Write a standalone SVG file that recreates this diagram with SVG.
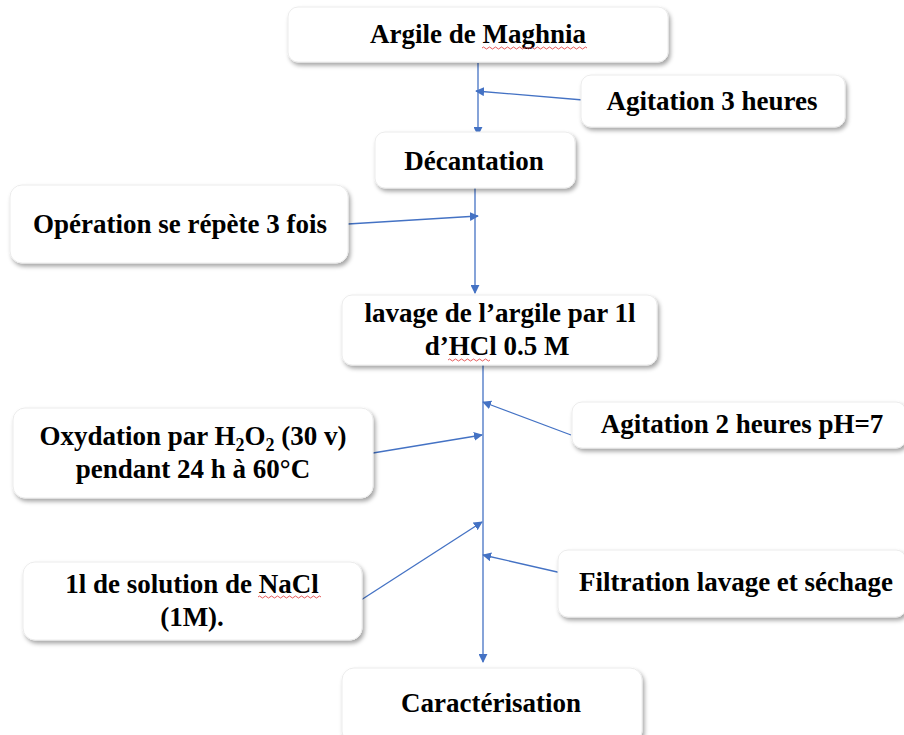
<svg xmlns="http://www.w3.org/2000/svg" width="904" height="735" viewBox="0 0 904 735">
<defs>
<filter id="sh" x="-10%" y="-20%" width="125%" height="150%">
<feDropShadow dx="2" dy="3" stdDeviation="2" flood-color="#000" flood-opacity="0.35"/>
</filter>
<marker id="ah" viewBox="0 0 10 10" refX="9" refY="5" markerWidth="9" markerHeight="9" markerUnits="userSpaceOnUse" orient="auto">
<path d="M0,0 L10,5 L0,10 z" fill="#4472C4"/>
</marker>
</defs>
<style>
.box{fill:#fff;stroke:#ececec;stroke-width:1;filter:url(#sh)}
.t{font-family:"Liberation Serif","Times New Roman",serif;font-weight:bold;font-size:27px;fill:#000;text-anchor:middle}
.c{stroke:#4472C4;stroke-width:1.3;fill:none}
.ca{stroke:#4472C4;stroke-width:1.3;fill:none;marker-end:url(#ah)}
.sq{stroke:#e03030;stroke-width:0.8;fill:none}
</style>
<rect width="904" height="735" fill="#fff"/>
<g id="connectors">
<line class="ca" x1="478" y1="63" x2="478" y2="135"/>
<line class="ca" x1="583" y1="100" x2="476" y2="91"/>
<line class="ca" x1="475" y1="188" x2="475" y2="293"/>
<line class="ca" x1="348" y1="224" x2="478" y2="216"/>
<line class="ca" x1="483" y1="365" x2="483" y2="662"/>
<line class="ca" x1="571" y1="435" x2="483" y2="402"/>
<line class="ca" x1="373" y1="453" x2="482" y2="435"/>
<line class="ca" x1="361" y1="600" x2="482" y2="522"/>
<line class="ca" x1="566" y1="574" x2="483" y2="555"/>
</g>
<g id="n1">
<rect class="box" x="288" y="7" width="380" height="55" rx="10"/>
<text class="t" x="478" y="43">Argile de Maghnia</text>
<path class="sq" d="M482,48 q1.5,-2 3,0 t3,0 t3,0 t3,0 t3,0 t3,0 t3,0 t3,0 t3,0 t3,0 t3,0 t3,0 t3,0 t3,0 t3,0 t3,0 t3,0 t3,0 t3,0 t3,0 t3,0 t3,0 t3,0 t3,0 t3,0 t3,0 t3,0 t3,0 t3,0 t3,0 t3,0 t3,0 t3,0 t3,0 t3,0"/>
</g>
<g id="n2">
<rect class="box" x="581" y="75" width="264" height="52" rx="10"/>
<text class="t" x="712" y="110">Agitation 3 heures</text>
</g>
<g id="n3">
<rect class="box" x="375" y="132" width="200" height="56" rx="10"/>
<text class="t" x="474" y="170">Décantation</text>
</g>
<g id="n4">
<rect class="box" x="10" y="185" width="338" height="78" rx="12"/>
<text class="t" x="180" y="233">Opération se répète 3 fois</text>
</g>
<g id="n5">
<rect class="box" x="342" y="295" width="315" height="70" rx="10"/>
<text class="t" x="500" y="322">lavage de l’argile par 1l</text>
<text class="t" x="497" y="355">d’HCl 0.5 M</text>
<path class="sq" d="M448,360 q1.5,-2 3,0 t3,0 t3,0 t3,0 t3,0 t3,0 t3,0 t3,0 t3,0 t3,0 t3,0 t3,0 t3,0 t3,0"/>
</g>
<g id="n6">
<rect class="box" x="572" y="402" width="334" height="46" rx="10"/>
<text class="t" x="742" y="433">Agitation 2 heures pH=7</text>
</g>
<g id="n7">
<rect class="box" x="13" y="408" width="360" height="90" rx="12"/>
<text class="t" x="193" y="445">Oxydation par H<tspan font-size="18" dy="6">2</tspan><tspan dy="-6">O</tspan><tspan font-size="18" dy="6">2</tspan><tspan dy="-6"> (30 v)</tspan></text>
<text class="t" x="193" y="478">pendant 24 h à 60°C</text>
</g>
<g id="n8">
<rect class="box" x="23" y="562" width="339" height="78" rx="12"/>
<text class="t" x="192" y="593">1l de solution de NaCl</text>
<text class="t" x="192" y="626">(1M).</text>
<path class="sq" d="M258,597 q1.5,-2 3,0 t3,0 t3,0 t3,0 t3,0 t3,0 t3,0 t3,0 t3,0 t3,0 t3,0 t3,0 t3,0 t3,0 t3,0 t3,0 t3,0 t3,0 t3,0 t3,0 t3,0"/>
</g>
<g id="n9">
<rect class="box" x="558" y="550" width="348" height="67" rx="10"/>
<text class="t" x="736" y="591">Filtration lavage et séchage</text>
</g>
<g id="n10">
<rect class="box" x="342" y="668" width="300" height="75" rx="12"/>
<text class="t" x="491" y="712">Caractérisation</text>
</g>
</svg>
